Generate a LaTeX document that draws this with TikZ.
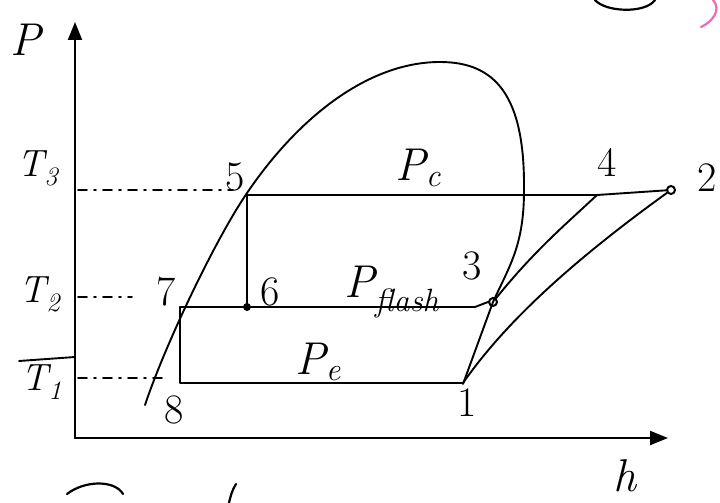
\documentclass[tikz,border=0pt]{standalone}
\usepackage{fontspec}
\usetikzlibrary{arrows.meta}
\begin{document}
\begin{tikzpicture}[x=1pt,y=-1pt,
  line width=2pt, line cap=round, line join=round,
  lbl/.style={inner sep=0pt, font=\fontsize{42}{42}\selectfont},
  big/.style={inner sep=0pt, font=\fontsize{46}{46}\selectfont\itshape},
  tlbl/.style={inner sep=0pt, font=\fontsize{38}{38}\selectfont\itshape},
  dd/.style={line width=1.8pt, dash pattern=on 9pt off 7pt on 2pt off 7pt},
  thin/.style={line width=1.9pt},
  ring/.style={circle, draw, line width=2pt, minimum size=8pt, inner sep=0pt},
  dot/.style={circle, fill, minimum size=8pt, inner sep=0pt}]
\useasboundingbox (0,0) rectangle (720,503);
\fill[white] (0,0) rectangle (720,503);
% axes
\coordinate (O) at (75,438);
\coordinate (Ytop) at (75,22);
\coordinate (Xend) at (668,438);
\draw[-{Triangle[length=18pt,width=14pt]}] (O) -- (Ytop);
\draw[-{Triangle[length=18pt,width=14pt]}] (O) -- (Xend);
\node[big] (Plab) at (26,40) {P};
\node[big] (hlab) at (625,476) {h};
% saturation dome
\draw[thin] (145,405) .. controls (165,345) and (215,240) .. (247,193)
  .. controls (300,115) and (370,62) .. (440,62)
  .. controls (495,62) and (525,95) .. (524,190)
  .. controls (524,245) and (510,265) .. (493,302)
  -- (463,384);
% state points
\coordinate (p1) at (463,383);
\coordinate (p4) at (597,195);
\coordinate (p5) at (247,195);
\coordinate (p6) at (247,307);
\coordinate (p7) at (180,307);
\coordinate (p8) at (180,383);
\coordinate (pf) at (475,307);
\node[ring] (p3) at (493,302) {};
\node[ring] (p2) at (671,190) {};
\node[dot] (d6) at (p6) {};
% cycle lines
\draw[thin] (p5) -- (p4) -- (p2);
\draw[thin] (p5) -- (p6);
\draw[thin] (p7) -- (pf) -- (p3.west);
\draw[thin] (p7) -- (p8) -- (p1);
\draw[thin] (p3) .. controls (535,250) and (565,225) .. (p4);
\draw[thin] (p1) .. controls (500,330) and (560,270) .. (p2);
% temperature dashed lines
\coordinate (t3a) at (78,190);
\coordinate (t3b) at (233,190);
\coordinate (t2a) at (78,297);
\coordinate (t2b) at (132,297);
\coordinate (t1a) at (78,378);
\coordinate (t1b) at (168,378);
\draw[dd] (t3a) -- (t3b);
\draw[dd] (t2a) -- (t2b);
\draw[dd] (t1a) -- (t1b);
\node[tlbl] (T3) at (38,168) {T\textsubscript{3}};
\node[tlbl] (T2) at (40,294) {T\textsubscript{2}};
\node[tlbl] (T1) at (42,382) {T\textsubscript{1}};
\coordinate (t1l) at (19,361);
\draw[thin] (t1l) -- (75,357);
% labels
\node[lbl] (l5) at (235,177) {5};
\node[lbl] (l7) at (166,292) {7};
\node[lbl] (l6) at (270,292) {6};
\node[lbl] (l8) at (174,410) {8};
\node[lbl] (l1) at (467,403) {1};
\node[lbl] (l3) at (472,266) {3};
\node[lbl] (l4) at (607,162) {4};
\node[lbl] (l2) at (707,178) {2};
\node[big] (Pc) at (418,168) {P\textsubscript{c}};
\node[big] (Pe) at (318,362) {P\textsubscript{e}};
\node[big] (Pfl) at (392,292) {P\textsubscript{flash}};
% cropped strokes at the edges
\draw[line width=2.2pt] (595,0) .. controls (605,12) and (645,14) .. (655,0);
\draw[line width=2.2pt, magenta!60] (713,0) .. controls (722,10) and (712,22) .. (701,27);
\draw[line width=2.2pt] (67,494) .. controls (85,480) and (115,480) .. (123,494);
\draw[line width=2.2pt] (236,484) .. controls (232,490) and (230,498) .. (229,503);
\end{tikzpicture}
\end{document}
